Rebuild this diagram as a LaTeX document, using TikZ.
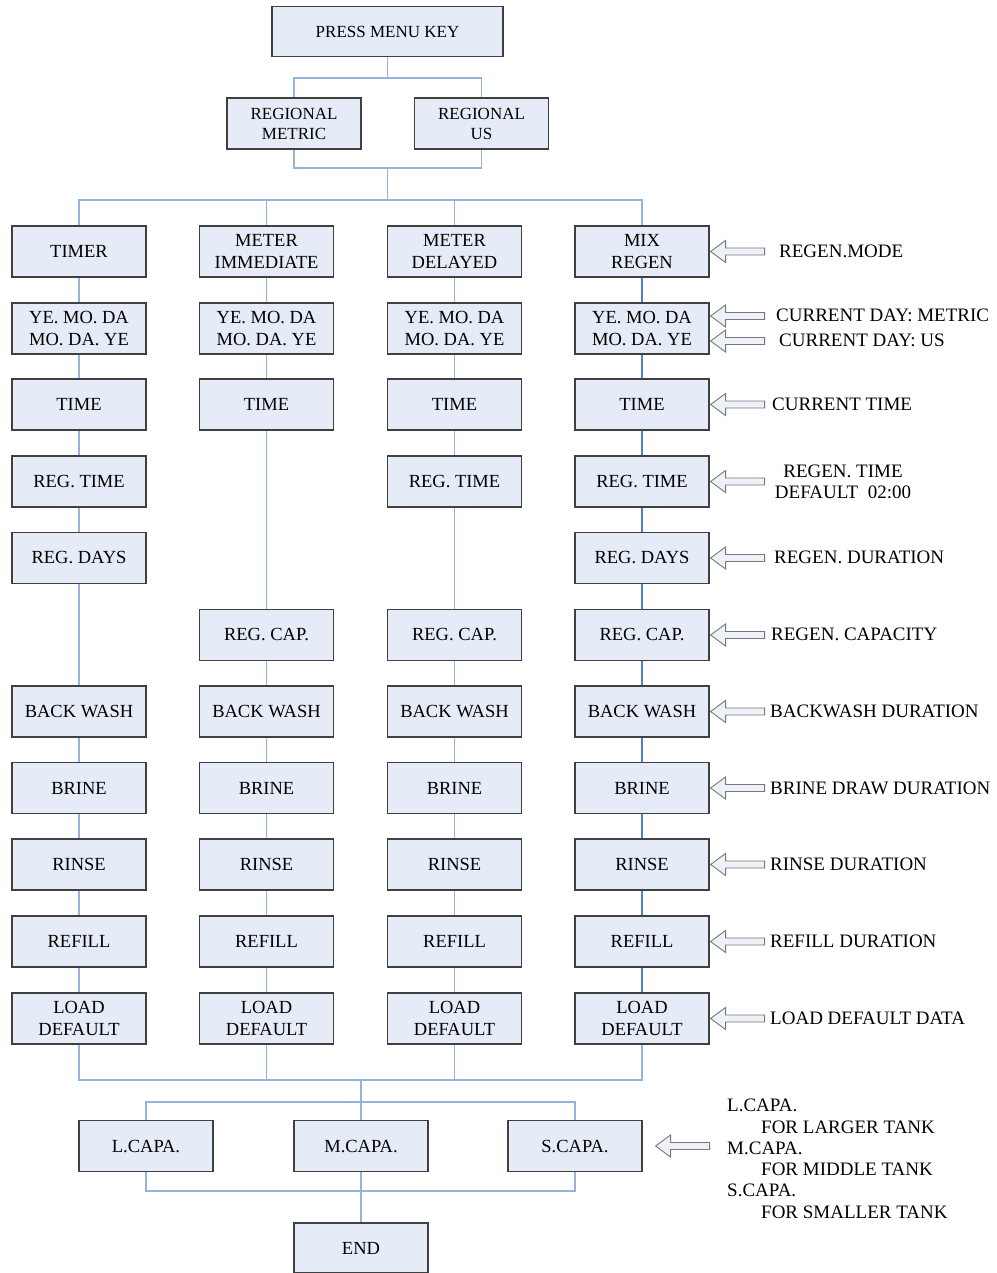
\documentclass[tikz,border=0pt]{standalone}
\usepackage{fontspec}
\setmainfont{Liberation Serif}
\definecolor{boxfill}{RGB}{230,236,247}
\definecolor{boxline}{RGB}{64,64,64}
\definecolor{linkA}{RGB}{149,179,220}
\definecolor{linkB}{RGB}{79,129,199}
\definecolor{arrowfill}{RGB}{238,241,247}
\definecolor{arrowline}{RGB}{120,120,120}
\newcommand\myfs{\fontsize{18.5}{21.5}\selectfont}
\newcommand\topfs{\fontsize{17}{20}\selectfont}
\newcommand\notefs{\fontsize{19}{21.3}\selectfont}
\tikzset{
  stepbox/.style={draw=boxline, line width=1.1pt, fill=boxfill, minimum width=134pt,
    minimum height=51pt, inner sep=0pt, align=center, font=\myfs},
  linka/.style={draw=linkA, line width=1.3pt},
  linkb/.style={draw=linkB, line width=1.1pt},
  note/.style={anchor=west, inner sep=0pt, font=\notefs, align=left},
  harrow/.pic={\draw[draw=arrowline, fill=arrowfill, line width=0.9pt]
    (1,0) -- (16,-11) -- (16,-3.5) -- (55,-3.5) -- (55,3.5) -- (16,3.5) -- (16,11) -- cycle;}
}
\begin{document}
\begin{tikzpicture}[x=1pt,y=-1pt]
\useasboundingbox (0,0) rectangle (996,1273);
% top
\node[stepbox, minimum width=231pt, minimum height=50pt, font=\topfs] (pmk) at (387.5,31.5) {PRESS MENU KEY};
\node[stepbox, font=\topfs] (rm) at (294,123.5) {REGIONAL\\METRIC};
\node[stepbox, font=\topfs] (ru) at (481.5,123.5) {REGIONAL\\US};
% column 1
\node[stepbox] (c1r1) at (79,251.5) {TIMER};
\node[stepbox] (c1r2) at (79,328.5) {YE. MO. DA\\MO. DA. YE};
\node[stepbox] (c1r3) at (79,404.5) {TIME};
\node[stepbox] (c1r4) at (79,481.5) {REG. TIME};
\node[stepbox] (c1r5) at (79,558) {REG. DAYS};
\node[stepbox] (c1r7) at (79,711.5) {BACK WASH};
\node[stepbox] (c1r8) at (79,788) {BRINE};
\node[stepbox] (c1r9) at (79,864.5) {RINSE};
\node[stepbox] (c1r10) at (79,941.5) {REFILL};
\node[stepbox] (c1r11) at (79,1018.5) {LOAD\\DEFAULT};
% column 2
\node[stepbox] (c2r1) at (266.5,251.5) {METER\\IMMEDIATE};
\node[stepbox] (c2r2) at (266.5,328.5) {YE. MO. DA\\MO. DA. YE};
\node[stepbox] (c2r3) at (266.5,404.5) {TIME};
\node[stepbox] (c2r6) at (266.5,635) {REG. CAP.};
\node[stepbox] (c2r7) at (266.5,711.5) {BACK WASH};
\node[stepbox] (c2r8) at (266.5,788) {BRINE};
\node[stepbox] (c2r9) at (266.5,864.5) {RINSE};
\node[stepbox] (c2r10) at (266.5,941.5) {REFILL};
\node[stepbox] (c2r11) at (266.5,1018.5) {LOAD\\DEFAULT};
% column 3
\node[stepbox] (c3r1) at (454.5,251.5) {METER\\DELAYED};
\node[stepbox] (c3r2) at (454.5,328.5) {YE. MO. DA\\MO. DA. YE};
\node[stepbox] (c3r3) at (454.5,404.5) {TIME};
\node[stepbox] (c3r4) at (454.5,481.5) {REG. TIME};
\node[stepbox] (c3r6) at (454.5,635) {REG. CAP.};
\node[stepbox] (c3r7) at (454.5,711.5) {BACK WASH};
\node[stepbox] (c3r8) at (454.5,788) {BRINE};
\node[stepbox] (c3r9) at (454.5,864.5) {RINSE};
\node[stepbox] (c3r10) at (454.5,941.5) {REFILL};
\node[stepbox] (c3r11) at (454.5,1018.5) {LOAD\\DEFAULT};
% column 4
\node[stepbox] (c4r1) at (642,251.5) {MIX\\REGEN};
\node[stepbox] (c4r2) at (642,328.5) {YE. MO. DA\\MO. DA. YE};
\node[stepbox] (c4r3) at (642,404.5) {TIME};
\node[stepbox] (c4r4) at (642,481.5) {REG. TIME};
\node[stepbox] (c4r5) at (642,558) {REG. DAYS};
\node[stepbox] (c4r6) at (642,635) {REG. CAP.};
\node[stepbox] (c4r7) at (642,711.5) {BACK WASH};
\node[stepbox] (c4r8) at (642,788) {BRINE};
\node[stepbox] (c4r9) at (642,864.5) {RINSE};
\node[stepbox] (c4r10) at (642,941.5) {REFILL};
\node[stepbox] (c4r11) at (642,1018.5) {LOAD\\DEFAULT};
% bottom
\node[stepbox] (lc) at (146,1146) {L.CAPA.};
\node[stepbox] (mc) at (361,1146) {M.CAPA.};
\node[stepbox] (sc) at (575,1146) {S.CAPA.};
\node[stepbox, minimum height=50pt] (end) at (361,1248) {END};
% junction coordinates
\coordinate (j0) at (387.5,78);
\coordinate (j1) at (387.5,168);
\coordinate (j2) at (387.5,200);
\coordinate (b1) at (361,1080);
\coordinate (b2) at (361,1102);
\coordinate (b3) at (361,1191);
% connectors top
\draw[linka] (pmk.south) -- (j0);
\draw[linka] (rm.north) |- (j0) -| (ru.north);
\draw[linka] (rm.south) |- (j1) -| (ru.south);
\draw[linka] (j1) -- (j2);
\draw[linka] (c1r1.north) |- (j2) -| (c4r1.north);
\draw[linka] (c2r1.north) -- (c2r1.north |- j2);
\draw[linka] (c3r1.north) -- (c3r1.north |- j2);
% column connectors
\draw[linka] (c1r1) -- (c1r2) (c1r2) -- (c1r3) (c1r3) -- (c1r4) (c1r4) -- (c1r5)
  (c1r5) -- (c1r7) (c1r7) -- (c1r8) (c1r8) -- (c1r9) (c1r9) -- (c1r10) (c1r10) -- (c1r11);
\draw[linka] (c2r1) -- (c2r2) (c2r2) -- (c2r3) (c2r3) -- (c2r6) (c2r6) -- (c2r7)
  (c2r7) -- (c2r8) (c2r8) -- (c2r9) (c2r9) -- (c2r10) (c2r10) -- (c2r11);
\draw[linka] (c3r1) -- (c3r2) (c3r2) -- (c3r3) (c3r3) -- (c3r4) (c3r4) -- (c3r6)
  (c3r6) -- (c3r7) (c3r7) -- (c3r8) (c3r8) -- (c3r9) (c3r9) -- (c3r10) (c3r10) -- (c3r11);
\draw[linkb] (c4r1) -- (c4r2) (c4r2) -- (c4r3) (c4r3) -- (c4r4) (c4r4) -- (c4r5)
  (c4r5) -- (c4r6) (c4r6) -- (c4r7) (c4r7) -- (c4r8) (c4r8) -- (c4r9) (c4r9) -- (c4r10) (c4r10) -- (c4r11);
% connectors bottom
\draw[linka] (c1r11.south) |- (b1) -| (c4r11.south);
\draw[linka] (c2r11.south) -- (c2r11.south |- b1);
\draw[linka] (c3r11.south) -- (c3r11.south |- b1);
\draw[linka] (b1) -- (mc.north);
\draw[linka] (lc.north) |- (b2) -| (sc.north);
\draw[linka] (lc.south) |- (b3) -| (sc.south);
\draw[linka] (mc.south) -- (end.north);
% hollow arrows
\pic at (c4r1.east) {harrow};
\pic at ([yshift=-12.5pt]c4r2.east) {harrow};
\pic at ([yshift=12.5pt]c4r2.east) {harrow};
\pic at (c4r3.east) {harrow};
\pic at (c4r4.east) {harrow};
\pic at (c4r5.east) {harrow};
\pic at (c4r6.east) {harrow};
\pic at (c4r7.east) {harrow};
\pic at (c4r8.east) {harrow};
\pic at (c4r9.east) {harrow};
\pic at (c4r10.east) {harrow};
\pic at (c4r11.east) {harrow};
\pic at ([xshift=12pt]sc.east) {harrow};
% notes
\node[note] (n1) at (779,251.5) {REGEN.MODE};
\node[note] (n2a) at (776,315.5) {CURRENT DAY: METRIC};
\node[note] (n2b) at (779,340.5) {CURRENT DAY: US};
\node[note] (n3) at (772,404.5) {CURRENT TIME};
\node[inner sep=0pt, font=\fontsize{19}{20.5}\selectfont, align=center] (n4) at (843,482) {REGEN. TIME\\DEFAULT\ \ 02:00};
\node[note] (n5) at (774,557.5) {REGEN. DURATION};
\node[note] (n6) at (771,634.5) {REGEN. CAPACITY};
\node[note] (n7) at (770,711) {BACKWASH DURATION};
\node[note] (n8) at (770,788) {BRINE DRAW DURATION};
\node[note] (n9) at (770,864.5) {RINSE DURATION};
\node[note] (n10) at (770,941) {REFILL DURATION};
\node[note] (n11) at (770,1018) {LOAD DEFAULT DATA};
\node[inner sep=0pt, anchor=north west, align=left, font=\notefs] (n12) at (727,1099)
  {L.CAPA.\\\hspace*{34pt}FOR LARGER TANK\\M.CAPA.\\\hspace*{34pt}FOR MIDDLE TANK\\S.CAPA.\\\hspace*{34pt}FOR SMALLER TANK};
\end{tikzpicture}
\end{document}
